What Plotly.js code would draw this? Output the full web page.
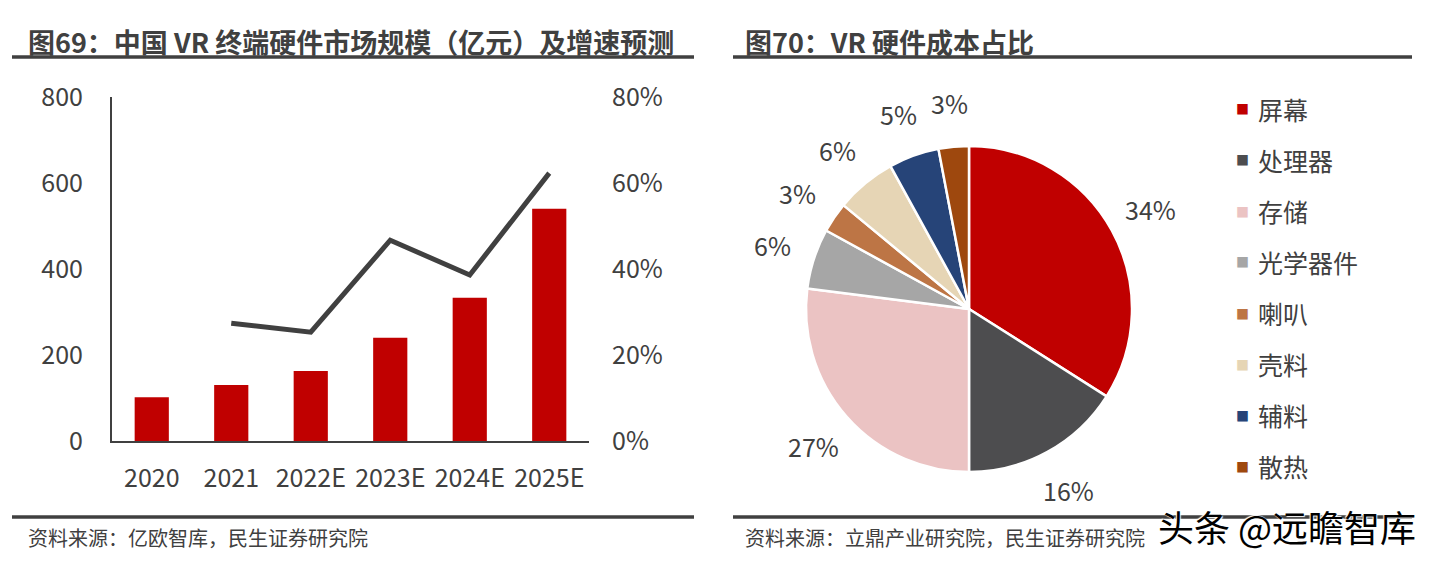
<!DOCTYPE html>
<html>
<head>
<meta charset="utf-8">
<script src="https://cdn.plot.ly/plotly-3.0.1.min.js"></script>
<style>
  html, body { margin: 0; padding: 0; background: #fff; }
  #chart { width: 1431px; height: 562px; }
</style>
</head>
<body>
<div id="chart"></div>
<script>
// left chart: market size (100m yuan) and growth
const years = ['2020', '2021', '2022E', '2023E', '2024E', '2025E'];
const marketSize = [102, 130, 163, 240, 333, 540];
const growthRate = [null, 27.4, 25.3, 46.7, 38.6, 62.3];
const rateTicks = [0, 20, 40, 60, 80];

// right chart: VR hardware cost share
const parts = ['屏幕', '处理器', '存储', '光学器件', '喇叭', '壳料', '辅料', '散热'];
const shares = [34, 16, 27, 6, 3, 6, 5, 3];
const partColors = ['#C00000', '#4D4D4F', '#EBC3C3', '#A6A6A6', '#BD7545', '#E6D5B5', '#264478', '#9E480E'];

const W = 1431, H = 562;
const FONT = '"Noto Sans CJK SC", "Noto Sans", sans-serif';
const INK = '#404040';

function px(x) { return x / W; }
function py(y) { return 1 - y / H; }

// pie box in pixels
const pieCx = 969, pieCy = 309, pieR = 163;

function drawCharts() {

    const data = [{
        x: years,
        y: marketSize,
        type: 'bar',
        marker: { color: '#C00000' },
        xaxis: 'x',
        yaxis: 'y'
    }, {
        x: years,
        y: growthRate,
        type: 'scatter',
        mode: 'lines',
        line: { color: INK, width: 5 },
        xaxis: 'x',
        yaxis: 'y2'
    }, {
        type: 'pie',
        labels: parts,
        values: shares,
        sort: false,
        direction: 'clockwise',
        rotation: 0,
        marker: { colors: partColors, line: { color: '#fff', width: 2.5 } },
        textinfo: 'none',
        domain: { x: [px(pieCx - pieR), px(pieCx + pieR)], y: [py(pieCy + pieR), py(pieCy - pieR)] },
        showlegend: false
    }];

    const tickFont = { family: FONT, size: 25, color: INK };

    // percent labels placed around the pie at each slice's mid angle
    const total = shares.reduce(function (a, b) { return a + b; }, 0);
    const pctNotes = [];
    let acc = 0;
    shares.forEach(function (v) {
        const mid = (acc + v / 2) / total * 2 * Math.PI;
        acc += v;
        const rr = pieR + 44;
        pctNotes.push({
            xref: 'paper', yref: 'paper',
            x: px(pieCx + rr * Math.sin(mid)), y: py(pieCy - rr * Math.cos(mid)),
            xanchor: 'center', yanchor: 'middle', showarrow: false,
            text: v + '%', font: { family: FONT, size: 25, color: INK }
        });
    });

    // legend for the pie, built from the arrays
    const legendNotes = [];
    parts.forEach(function (p, i) {
        const yy = py(109 + 51 * i);
        legendNotes.push({
            xref: 'paper', yref: 'paper', x: px(1242.5), y: yy,
            xanchor: 'center', yanchor: 'middle', showarrow: false,
            text: '■', font: { family: FONT, size: 13, color: partColors[i] }
        });
        legendNotes.push({
            xref: 'paper', yref: 'paper', x: px(1256), y: yy,
            xanchor: 'left', yanchor: 'middle', showarrow: false,
            text: p, font: { family: FONT, size: 25, color: INK }
        });
    });

    const titleFont = { family: FONT, size: 27, color: INK, weight: 'bold' };
    const srcFont = { family: FONT, size: 20, color: INK };

    const notes = [
        { xref: 'paper', yref: 'paper', x: px(26), y: py(42), xanchor: 'left', yanchor: 'middle',
          showarrow: false, text: '图69：中国 VR 终端硬件市场规模（亿元）及增速预测', font: titleFont },
        { xref: 'paper', yref: 'paper', x: px(743), y: py(42), xanchor: 'left', yanchor: 'middle',
          showarrow: false, text: '图70：VR 硬件成本占比', font: titleFont },
        { xref: 'paper', yref: 'paper', x: px(26), y: py(537), xanchor: 'left', yanchor: 'middle',
          showarrow: false, text: '资料来源：亿欧智库，民生证券研究院', font: srcFont },
        { xref: 'paper', yref: 'paper', x: px(743), y: py(537), xanchor: 'left', yanchor: 'middle',
          showarrow: false, text: '资料来源：立鼎产业研究院，民生证券研究院', font: srcFont },
        { xref: 'paper', yref: 'paper', x: px(1418), y: py(526), xanchor: 'right', yanchor: 'middle',
          showarrow: false, text: '头条 @远瞻智库',
          font: { family: FONT, size: 36, color: '#000', shadow: '1px 1px 1px #fff, -1px -1px 1px #fff' } }
    ].concat(pctNotes, legendNotes);

    const rule = { color: INK, width: 3.5 };
    const shapes = [
        { type: 'line', xref: 'paper', yref: 'paper', x0: px(12), x1: px(694), y0: py(57), y1: py(57), line: rule },
        { type: 'line', xref: 'paper', yref: 'paper', x0: px(733), x1: px(1412), y0: py(57), y1: py(57), line: rule },
        { type: 'line', xref: 'paper', yref: 'paper', x0: px(12), x1: px(694), y0: py(517), y1: py(517), line: rule },
        { type: 'line', xref: 'paper', yref: 'paper', x0: px(733), x1: px(1412), y0: py(517), y1: py(517), line: rule }
    ];

    const layout = {
        width: W,
        height: H,
        margin: { l: 0, r: 0, t: 0, b: 0 },
        paper_bgcolor: '#fff',
        plot_bgcolor: '#fff',
        showlegend: false,
        bargap: 0.57,
        font: { family: FONT, color: INK },
        xaxis: {
            type: 'category',
            domain: [px(112), px(589)],
            range: [-0.5, 5.5],
            showline: true, linecolor: INK, linewidth: 2,
            showgrid: false, zeroline: false, ticks: '',
            ticklabelstandoff: 14,
            tickfont: tickFont,
            anchor: 'y'
        },
        yaxis: {
            domain: [py(441), py(97)],
            range: [0, 800],
            tickvals: [0, 200, 400, 600, 800],
            showline: true, linecolor: INK, linewidth: 2,
            showgrid: false, zeroline: false, ticks: '',
            ticklabelstandoff: 22,
            tickfont: tickFont,
            anchor: 'x'
        },
        yaxis2: {
            overlaying: 'y',
            side: 'right',
            anchor: 'x',
            range: [0, 80],
            tickvals: rateTicks,
            ticktext: rateTicks.map(function (t) { return t + '%'; }),
            showline: false, showgrid: false, zeroline: false, ticks: '',
            ticklabelstandoff: 22,
            tickfont: tickFont
        },
        annotations: notes,
        shapes: shapes
    };

    Plotly.newPlot('chart', data, layout, { displayModeBar: false, staticPlot: true });
}

drawCharts();
</script>
</body>
</html>
